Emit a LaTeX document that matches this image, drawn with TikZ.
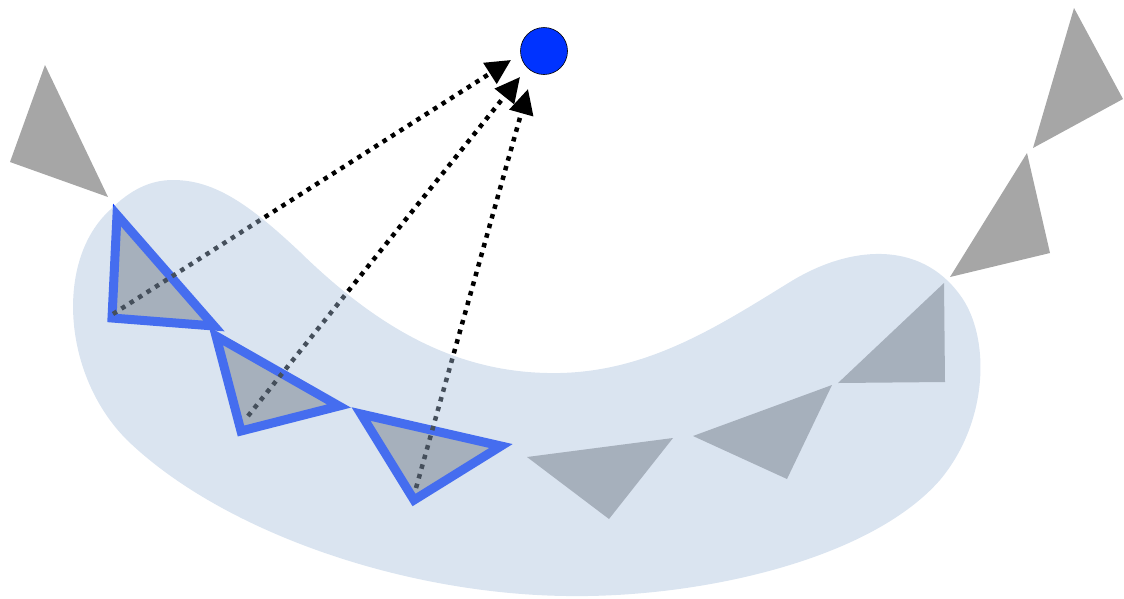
\documentclass[tikz,border=0pt]{standalone}
\usetikzlibrary{arrows.meta}
\definecolor{flaggray}{HTML}{A6A6A6}
\definecolor{flagblue}{HTML}{0033FF}
\definecolor{blobfill}{RGB}{166,190,219}
\tikzset{
  flag/.style={fill=flaggray, draw=none},
  picked/.style={fill=flaggray, draw=flagblue, line width=9pt, line join=miter, miter limit=10},
  sight/.style={draw=black, line width=4.5pt, dash pattern=on 4.5pt off 5.5pt,
    -{Triangle[length=25pt,width=24pt]}},
  blob/.style={fill=blobfill, fill opacity=0.42, draw=none},
  target/.style={circle, minimum size=47pt, inner sep=0pt, fill=flagblue, draw=black, line width=0.6pt}
}
\begin{document}
\begin{tikzpicture}[x=1pt, y=-1pt]
\useasboundingbox (0,0) rectangle (1124,598);

% free-hanging pennants
\fill[flag] (45,65) -- (10,162) -- (108,197) -- cycle;
\fill[flag] (1074,8) -- (1123,99) -- (1033,148) -- cycle;
\fill[flag] (1027,153) -- (1050,253) -- (950,277) -- cycle;

% pennants inside the region
\fill[flag] (527,457) -- (673,438) -- (609,519) -- cycle;
\fill[flag] (693,436) -- (832,385) -- (787,479) -- cycle;
\fill[flag] (838,383) -- (944,283) -- (945,382) -- cycle;

% selected pennants with blue outline
\draw[picked] (117,215) -- (112,318) -- (214,326) -- cycle;
\draw[picked] (216,336) -- (241,431) -- (339,406) -- cycle;
\draw[picked] (361,414) -- (414,500) -- (501,446) -- cycle;

% target point
\node[target] (sink) at (544,51) {};

% sight-line anchors
\coordinate (s1) at (113,314);
\coordinate (s2) at (248,416);
\coordinate (s3) at (416,488);
\coordinate (t1) at (511,60);
\coordinate (t2) at (520,77);
\coordinate (t3) at (528,89);

\draw[sight] (s1) -- (t1);
\draw[sight] (s2) -- (t2);
\draw[sight] (s3) -- (t3);

% translucent region on top
\fill[blob] (173,180)
  .. controls (215,180) and (250,205) .. (300,252)
  .. controls (380,330) and (460,375) .. (560,373)
  .. controls (650,371) and (720,325) .. (790,282)
  .. controls (850,245) and (920,240) .. (960,295)
  .. controls (990,335) and (990,420) .. (940,480)
  .. controls (870,560) and (700,598) .. (567,596)
  .. controls (400,594) and (220,530) .. (127,440)
  .. controls (62,375) and (55,260) .. (110,210)
  .. controls (130,190) and (150,180) .. (173,180) -- cycle;
\end{tikzpicture}
\end{document}
